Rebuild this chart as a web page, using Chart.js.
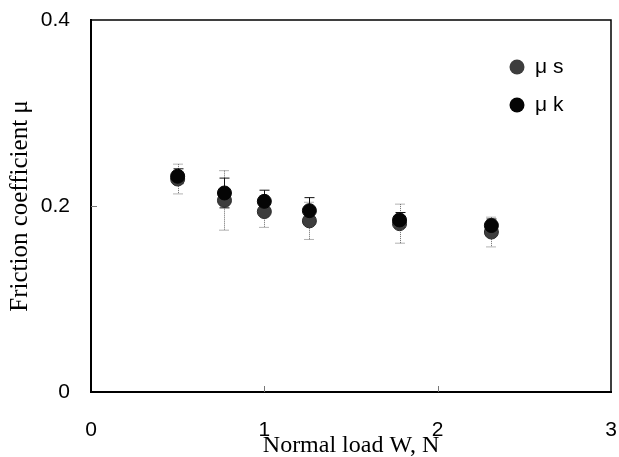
<!DOCTYPE html>
<html>
<head>
<meta charset="utf-8">
<script src="https://cdn.jsdelivr.net/npm/chart.js@4.4.0/dist/chart.umd.min.js"></script>
<style>
  body { margin: 0; background: #fff; }
  #wrap { width: 619px; height: 457px; }
</style>
</head>
<body>
<div id="wrap"><canvas id="myChart" width="619" height="457"></canvas></div>
<script>
// values
const loads = [0.5, 0.77, 1.0, 1.26, 1.78, 2.31];
const muS = [0.229, 0.206, 0.194, 0.184, 0.181, 0.172];
const muK = [0.232, 0.214, 0.205, 0.195, 0.185, 0.179];
const errS = [0.016, 0.032, 0.017, 0.020, 0.021, 0.016];
const errK = [0.008, 0.016, 0.012, 0.014, 0.008, 0.007];
const xTicks = [0, 1, 2, 3];
const yTicks = [0, 0.2, 0.4];

const sans = '"Liberation Sans", Arial, sans-serif';
const serif = '"Liberation Serif", "Times New Roman", serif';

// error bars drawn behind the markers
const errorBars = {
    id: 'errorBars',
    beforeDatasetsDraw(chart) {
        const { ctx, scales: { x, y } } = chart;
        ctx.save();
        chart.data.datasets.forEach(ds => {
            ctx.strokeStyle = ds.errColor;
            ctx.lineWidth = 1;
            ctx.setLineDash(ds.errDash);
            ds.data.forEach((p, i) => {
                const px = Math.round(x.getPixelForValue(p.x)) + 0.5;
                const t = y.getPixelForValue(p.y + ds.errors[i]);
                const b = y.getPixelForValue(p.y - ds.errors[i]);
                ctx.beginPath();
                ctx.moveTo(px, t); ctx.lineTo(px, b);
                ctx.moveTo(px - 5, t); ctx.lineTo(px + 5, t);
                ctx.moveTo(px - 5, b); ctx.lineTo(px + 5, b);
                ctx.stroke();
            });
        });
        ctx.restore();
    }
};

// box frame, inward ticks and the legend
const frame = {
    id: 'frame',
    afterDraw(chart) {
        const { ctx, chartArea: a, scales: { x, y } } = chart;
        ctx.save();
        ctx.strokeStyle = '#000';
        ctx.lineWidth = 1.5;
        ctx.beginPath();
        ctx.moveTo(a.left, a.top); ctx.lineTo(a.right, a.top); ctx.lineTo(a.right, a.bottom);
        ctx.stroke();
        ctx.strokeStyle = '#777';
        ctx.lineWidth = 1;
        ctx.beginPath();
        yTicks.slice(1, -1).forEach(v => {
            const py = Math.round(y.getPixelForValue(v)) + 0.5;
            ctx.moveTo(a.left, py); ctx.lineTo(a.left + 6, py);
        });
        xTicks.slice(1, -1).forEach(v => {
            const px = Math.round(x.getPixelForValue(v)) + 0.5;
            ctx.moveTo(px, a.bottom); ctx.lineTo(px, a.bottom - 6);
        });
        ctx.stroke();

        // legend
        ctx.font = '21px ' + sans;
        ctx.textBaseline = 'middle';
        chart.data.datasets.forEach((ds, i) => {
            const cy = a.top + 47 + i * 38;
            ctx.beginPath();
            ctx.arc(517, cy, 7.5, 0, Math.PI * 2);
            ctx.fillStyle = ds.backgroundColor;
            ctx.fill();
            ctx.fillStyle = '#000';
            ctx.fillText(ds.label, 535, cy);
        });
        ctx.restore();
    }
};

const ctx = document.getElementById('myChart').getContext('2d');
new Chart(ctx, {
    type: 'scatter',
    data: {
        datasets: [
            {
                label: 'μ s',
                data: loads.map((w, i) => ({ x: w, y: muS[i] })),
                errors: errS,
                errColor: '#666',
                errDash: [1, 1],
                backgroundColor: '#3d3d3d',
                borderColor: '#2a2a2a',
                pointRadius: 7,
                order: 1
            },
            {
                label: 'μ k',
                data: loads.map((w, i) => ({ x: w, y: muK[i] })),
                errors: errK,
                errColor: '#111',
                errDash: [],
                backgroundColor: '#050505',
                borderColor: '#050505',
                pointRadius: 7,
                order: 0
            }
        ]
    },
    options: {
        responsive: false,
        animation: false,
        layout: { padding: { top: 20, right: 8, left: 0, bottom: 0 } },
        plugins: { legend: { display: false }, tooltip: { enabled: false } },
        scales: {
            x: {
                type: 'linear',
                min: 0, max: 3,
                afterBuildTicks: s => { s.ticks = xTicks.map(v => ({ value: v })); },
                afterFit: s => { s.height = 65; s.paddingLeft = 0; s.paddingRight = 0; },
                grid: { display: false, drawTicks: false },
                border: { display: true, color: '#000', width: 2 },
                ticks: { color: '#000', padding: 26, maxRotation: 0, font: { family: sans, size: 21 } },
                title: {
                    display: true,
                    text: 'Normal load W, N',
                    color: '#000',
                    padding: 0,
                    font: { family: serif, size: 24, lineHeight: 0.9 }
                }
            },
            y: {
                min: 0, max: 0.4,
                afterBuildTicks: s => { s.ticks = yTicks.map(v => ({ value: v })); },
                afterFit: s => { s.width = 91; s.paddingTop = 0; s.paddingBottom = 0; },
                grid: { display: false, drawTicks: false },
                border: { display: true, color: '#000', width: 2 },
                ticks: { color: '#000', padding: 21, font: { family: sans, size: 21 },
                    callback: v => v === 0 ? '0' : v.toFixed(1) },
                title: {
                    display: true,
                    text: 'Friction coefficient μ',
                    color: '#000',
                    padding: { top: 8, bottom: 0 },
                    font: { family: serif, size: 25, lineHeight: 1.0 }
                }
            }
        }
    },
    plugins: [errorBars, frame]
});
</script>
</body>
</html>
